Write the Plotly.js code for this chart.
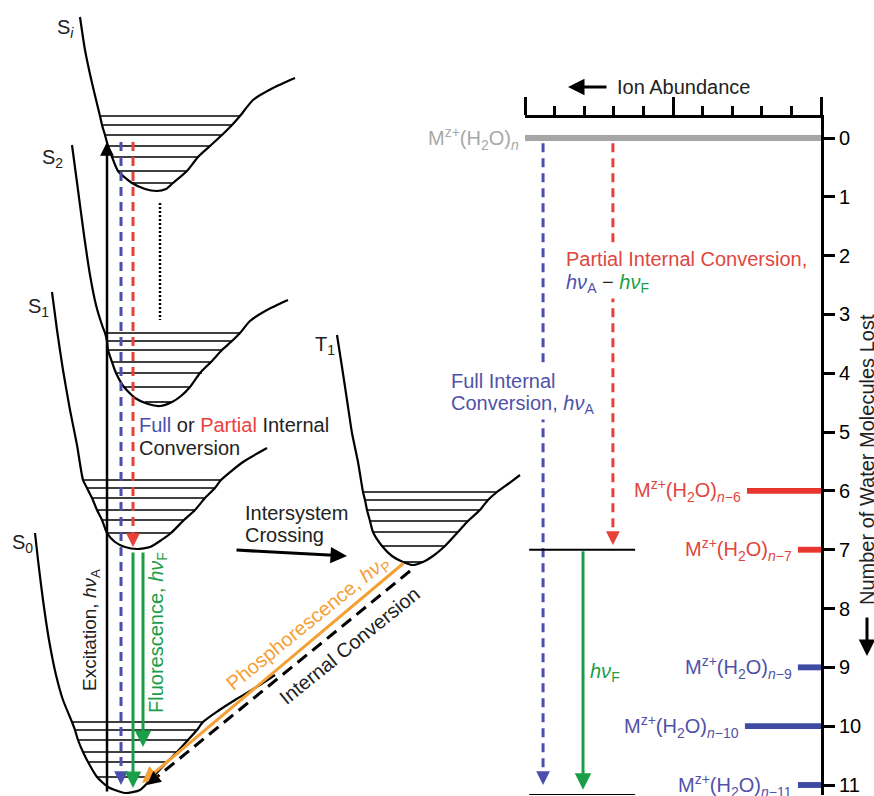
<!DOCTYPE html>
<html><head><meta charset="utf-8">
<script src="https://cdn.plot.ly/plotly-3.0.1.min.js"></script>
<style>html,body{margin:0;padding:0;background:#fff}</style>
</head><body>
<div id="chart" style="width:874px;height:796px"></div>
<script>
// ---------- Right panel data (ion abundance vs. number of water molecules lost) ----------
const waterLost = [0, 6, 7, 9, 10, 11];
const abundance = [10, 2.5, 0.78, 0.78, 2.57, 0.78];
const ionLabels = [
  'M<sup>z+</sup>(H<sub>2</sub>O)<sub><i>n</i></sub>',
  'M<sup>z+</sup>(H<sub>2</sub>O)<sub><i>n</i>\u22126</sub>',
  'M<sup>z+</sup>(H<sub>2</sub>O)<sub><i>n</i>\u22127</sub>',
  'M<sup>z+</sup>(H<sub>2</sub>O)<sub><i>n</i>\u22129</sub>',
  'M<sup>z+</sup>(H<sub>2</sub>O)<sub><i>n</i>\u221210</sub>',
  'M<sup>z+</sup>(H<sub>2</sub>O)<sub><i>n</i>\u221211</sub>'
];
const barColors = ['#a6a6a6', '#e8352f', '#e8352f', '#3d4ba3', '#3d4ba3', '#3d4ba3'];
const labelColors = ['#a8a8a8', '#e0463e', '#e0463e', '#4f52a8', '#4f52a8', '#4f52a8'];
const lostTicks = [0, 1, 2, 3, 4, 5, 6, 7, 8, 9, 10, 11];
// right-panel transitions (abundance position, start / end in molecules lost)
const fullIC = {x: 9.39, y0: 0.09, y1: 11.0};
const partialIC = {x: 7.03, y0: 0.09, y1: 6.92};
const fluorR = {x: 8.04, y0: 7.0, y1: 11.08};
const levelBarsX = [9.86, 6.28];
const levelBarsY = [7, 11.17];

// ---------- Left panel schematic (potential curves in picture units) ----------
const SiX = [80, 85, 92, 100, 102, 105, 108, 112, 118, 132, 145, 157, 166, 173, 187, 198, 210, 222, 232, 240, 253, 273, 295];
const SiY = [17, 50, 83, 116, 125, 135, 146, 157, 171, 183, 189, 191, 189, 183, 171, 157, 146, 135, 125, 116, 100, 88, 78];
const SiLvY = [116, 125, 135, 146, 157, 171, 183];
const SiLvL = [100, 102, 105, 108, 112, 118, 132];
const SiLvR = [240, 232, 222, 210, 198, 187, 173];

const S2X = [72, 78, 84, 90, 96, 102, 105, 107, 108, 112, 116, 124, 135, 148, 160, 172, 181, 190, 200, 211, 222, 232, 240, 250, 267, 288];
const S2Y = [145, 190, 235, 275, 305, 325, 333, 341, 350, 362, 373, 387, 398, 404, 406, 402, 396, 387, 373, 362, 350, 341, 333, 321, 310, 300];
const S2LvY = [333, 341, 350, 362, 373, 387, 402];
const S2LvL = [105, 107, 108, 112, 116, 124, 145];
const S2LvR = [240, 232, 222, 211, 202, 190, 172];

const S1X = [52, 57, 63, 70, 77, 83, 87, 92, 97, 102, 107, 115, 125, 137, 150, 160, 171, 184, 195, 205, 215, 221, 243, 267];
const S1Y = [292, 330, 370, 410, 445, 480, 488, 498, 510, 520, 533, 542, 547, 549, 547, 541, 533, 520, 510, 498, 488, 480, 462, 448];
const S1LvY = [480, 488, 498, 510, 520, 533];
const S1LvL = [83, 87, 92, 97, 102, 107];
const S1LvR = [221, 215, 205, 195, 184, 171];

const S0X = [35, 38, 43, 49, 56, 63, 72, 75, 78, 83, 88, 97, 108, 125, 140, 153, 167, 177, 188, 197, 203, 218, 235, 255, 275];
const S0Y = [533, 560, 600, 640, 675, 700, 722, 730, 740, 752, 762, 777, 787, 793, 790, 777, 762, 752, 740, 730, 722, 711, 700, 688, 675];
const S0LvY = [722, 730, 740, 752, 762, 777];
const S0LvL = [72, 75, 78, 83, 88, 97];
const S0LvR = [203, 197, 188, 177, 167, 153];

const T1X = [337, 342, 347, 352, 358, 363, 365, 367, 370, 373, 382, 392, 403, 413, 423, 433, 445, 458, 468, 480, 488, 497, 508, 520];
const T1Y = [335, 367, 400, 433, 462, 492, 500, 510, 521, 532, 546, 556, 562, 565, 562, 556, 546, 532, 521, 510, 500, 492, 484, 475];
const T1LvY = [492, 500, 510, 521, 532, 546, 562];
const T1LvL = [363, 365, 367, 370, 373, 382, 403];
const T1LvR = [497, 488, 480, 468, 458, 445, 423];

// left-panel transitions [x, yStart, yEnd]
const excitation = [107, 793, 142];
const fullICL = [121, 142, 785];
const partialICL = [133, 142, 547];
const fluorL1 = [133, 551, 788];
const fluorL2 = [143, 551, 747];
const dottedL = [160, 203, 320];
const phosphor = [405, 562, 142, 783];
const icT1 = [410, 571, 147, 785];
const iscArrow = [235, 550, 347, 556];

const FONT = 'Liberation Sans, Arial, Helvetica, sans-serif';
const BLUE = '#4a4fae', RED = '#e8413a', GREEN = '#1a9f48', ORANGE = '#f5a035';

const traces = [];
function curve(xs, ys) {
  traces.push({type: 'scatter', mode: 'lines', x: xs, y: ys, xaxis: 'x', yaxis: 'y',
    line: {color: '#000', width: 2.2, shape: 'spline', smoothing: 0.6}, hoverinfo: 'skip'});
}
function levels(ys, xl, xr) {
  const x = [], y = [];
  ys.forEach((v, i) => { x.push(xl[i], xr[i], null); y.push(v, v, null); });
  traces.push({type: 'scatter', mode: 'lines', x: x, y: y, xaxis: 'x', yaxis: 'y',
    line: {color: '#000', width: 1.6}, hoverinfo: 'skip'});
}
function seg(x0, y0, x1, y1, color, width, dash, xa, ya) {
  traces.push({type: 'scatter', mode: 'lines', x: [x0, x1], y: [y0, y1], xaxis: xa || 'x', yaxis: ya || 'y',
    line: {color: color, width: width, dash: dash || 'solid'}, hoverinfo: 'skip'});
}
curve(SiX, SiY); levels(SiLvY, SiLvL, SiLvR);
curve(S2X, S2Y); levels(S2LvY, S2LvL, S2LvR);
curve(S1X, S1Y); levels(S1LvY, S1LvL, S1LvR);
curve(S0X, S0Y); levels(S0LvY, S0LvL, S0LvR);
curve(T1X, T1Y); levels(T1LvY, T1LvL, T1LvR);

seg(fullICL[0], fullICL[1], fullICL[0], fullICL[2] - 6, BLUE, 3, '9px,6px');
seg(partialICL[0], partialICL[1], partialICL[0], partialICL[2] - 6, RED, 3, '9px,6px');
seg(dottedL[0], dottedL[1], dottedL[0], dottedL[2], '#000', 2.5, '2px,2px');
seg(icT1[0], icT1[1], icT1[2] + 5, icT1[3] - 4, '#000', 3, '12px,7px');

// right-panel lines
seg(fullIC.x, fullIC.y0, fullIC.x, fullIC.y1 - 0.1, BLUE, 3, '9px,6px', 'x2', 'y2');
seg(partialIC.x, partialIC.y0, partialIC.x, partialIC.y1 - 0.1, RED, 3, '9px,6px', 'x2', 'y2');
levelBarsY.forEach(v => seg(levelBarsX[0], v, levelBarsX[1], v, '#000', 2, 'solid', 'x2', 'y2'));

traces.push({type: 'bar', orientation: 'h', x: abundance, y: waterLost, xaxis: 'x2', yaxis: 'y2',
  width: 0.1, marker: {color: barColors, line: {width: 0}}, hoverinfo: 'skip'});

const ann = [];
function txt(x, y, text, o) {
  o = o || {};
  const a = {x: x, y: y, xref: o.xref || 'x', yref: o.yref || 'y', text: text, showarrow: false,
    xanchor: o.xanchor || 'left', yanchor: 'middle', textangle: o.angle || 0, xshift: o.xshift || 0,
    font: {family: FONT, size: o.size || 20, color: o.color || '#222'}};
  if (o.bg) { a.bgcolor = '#fff'; a.borderpad = 2; }
  ann.push(a);
}
function arrow(hx, hy, tx, ty, color, width, xr, yr) {
  ann.push({x: hx, y: hy, ax: tx, ay: ty, xref: xr || 'x', yref: yr || 'y', axref: xr || 'x', ayref: yr || 'y',
    text: '', showarrow: true, arrowhead: 2, arrowsize: 1.1, arrowwidth: width, arrowcolor: color});
}
// arrows (left)
arrow(excitation[0], excitation[2], excitation[0], excitation[1], '#000', 2.5);
arrow(fullICL[0], fullICL[2], fullICL[0], fullICL[2] - 10, BLUE, 2.5);
arrow(partialICL[0], partialICL[2], partialICL[0], partialICL[2] - 10, RED, 2.5);
arrow(fluorL1[0], fluorL1[2], fluorL1[0], fluorL1[1], GREEN, 3);
arrow(fluorL2[0], fluorL2[2], fluorL2[0], fluorL2[1], GREEN, 3);
arrow(phosphor[2], phosphor[3], phosphor[0], phosphor[1], ORANGE, 3);
arrow(icT1[2], icT1[3], icT1[2] + 8, icT1[3] - 6.5, '#000', 2.5);
arrow(iscArrow[2], iscArrow[3], iscArrow[0], iscArrow[1], '#000', 3);
// arrows (right)
arrow(fullIC.x, fullIC.y1, fullIC.x, fullIC.y1 - 0.2, BLUE, 2.5, 'x2', 'y2');
arrow(partialIC.x, partialIC.y1, partialIC.x, partialIC.y1 - 0.2, RED, 2.5, 'x2', 'y2');
arrow(fluorR.x, fluorR.y1, fluorR.x, fluorR.y0, GREEN, 3, 'x2', 'y2');
arrow(568, 87, 608, 87, '#000', 3);
arrow(867, 656, 867, 616, '#000', 3);

// ion labels next to bars
waterLost.forEach((w, i) => txt(abundance[i], w, ionLabels[i],
  {xref: 'x2', yref: 'y2', xanchor: 'right', xshift: -4, color: labelColors[i]}));

// state labels
txt(65, 28, 'S<sub><i>i</i></sub>', {xanchor: 'center'});
txt(52, 158, 'S<sub>2</sub>', {xanchor: 'center'});
txt(38, 307, 'S<sub>1</sub>', {xanchor: 'center'});
txt(22, 543, 'S<sub>0</sub>', {xanchor: 'center'});
txt(325, 345, 'T<sub>1</sub>', {xanchor: 'center'});
// process labels
txt(91, 630, 'Excitation, <i>h\u03bd</i><sub>A</sub>', {xanchor: 'center', angle: -90, size: 19});
txt(157, 633, 'Fluorescence, <i>h\u03bd</i><sub>F</sub>', {xanchor: 'center', angle: -90, color: GREEN});
txt(137, 425, '<span style="color:' + BLUE + '">Full</span> or <span style="color:' + RED + '">Partial</span> Internal');
txt(137, 448, 'Conversion');
txt(243, 513, 'Intersystem');
txt(243, 535, 'Crossing');
txt(308, 623, 'Phosphorescence, <i>h\u03bd</i><sub>P</sub>', {xanchor: 'center', angle: -39, color: ORANGE});
txt(349, 646, 'Internal Conversion', {xanchor: 'center', angle: -39});
txt(615, 87, 'Ion Abundance', {size: 20});
txt(563, 259, 'Partial Internal Conversion,', {color: '#e0463e', bg: true});
txt(563, 283, '<span style="color:#4f52a8"><i>h\u03bd</i><sub>A</sub></span> \u2212 <span style="color:' + GREEN + '"><i>h\u03bd</i><sub>F</sub></span>', {bg: true});
txt(448, 381, 'Full Internal', {color: '#4f52a8', bg: true});
txt(448, 404, 'Conversion, <i>h\u03bd</i><sub>A</sub>', {color: '#4f52a8', bg: true});
txt(588, 672, '<i>h\u03bd</i><sub>F</sub>', {color: GREEN});
txt(867, 460, 'Number of Water Molecules Lost', {xanchor: 'center', angle: -90});

const W = 874, H = 796;
const layout = {
  width: W, height: H, margin: {l: 0, r: 0, t: 0, b: 0, pad: 0},
  paper_bgcolor: '#fff', plot_bgcolor: 'rgba(0,0,0,0)', showlegend: false,
  font: {family: FONT, size: 20, color: '#000'},
  xaxis: {domain: [0, 1], range: [0, W], visible: false, fixedrange: true},
  yaxis: {domain: [0, 1], range: [H, 0], visible: false, fixedrange: true},
  xaxis2: {domain: [525 / W, 821 / W], range: [10, 0], anchor: 'y2', side: 'top',
    showline: true, linecolor: '#000', linewidth: 3, showgrid: false, zeroline: false,
    ticks: 'outside', ticklen: 18, tickwidth: 3, tickcolor: '#000', tick0: 0, dtick: 5,
    showticklabels: false,
    minor: {ticks: 'outside', ticklen: 9, tickwidth: 3, tickcolor: '#000', dtick: 1, showgrid: false},
    fixedrange: true},
  yaxis2: {domain: [(H - 795) / H, (H - 118) / H], range: [11.17, -0.34], anchor: 'x2', side: 'right',
    showline: true, linecolor: '#000', linewidth: 3, showgrid: false, zeroline: false,
    ticks: 'outside', ticklen: 11, tickwidth: 3, tickcolor: '#000',
    tickvals: lostTicks, ticktext: lostTicks.map(String),
    tickfont: {family: FONT, size: 20, color: '#000'}, fixedrange: true},
  annotations: ann
};
Plotly.newPlot('chart', traces, layout, {displayModeBar: false, staticPlot: true});
</script>
</body></html>
